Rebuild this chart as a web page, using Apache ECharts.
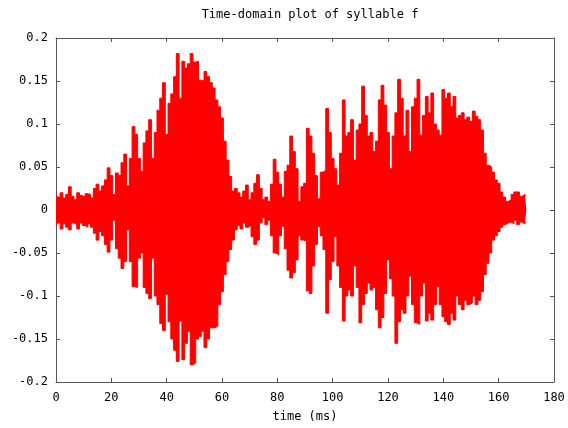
<!DOCTYPE html>
<html><head><meta charset="utf-8">
<script src="https://cdn.jsdelivr.net/npm/echarts@6/dist/echarts.min.js"></script>
<style>html,body{margin:0;padding:0;background:#fff}#c{width:568px;height:428px}</style>
</head><body><div id="c"></div>
<script>
const title = "Time-domain plot of syllable f";
const xLabel = "time (ms)";
const sampleStepMs = 1; // envelope sampled every 1 ms starting at 0 ms
const upperEnv = [0.018,0.015,0.020,0.014,0.018,0.027,0.016,0.012,0.020,0.017,
0.015,0.019,0.018,0.014,0.025,0.030,0.022,0.028,0.035,0.049,
0.040,0.018,0.043,0.040,0.055,0.065,0.028,0.060,0.097,0.088,
0.060,0.045,0.078,0.092,0.105,0.060,0.090,0.116,0.130,0.148,
0.088,0.124,0.135,0.155,0.182,0.130,0.173,0.165,0.170,0.182,
0.172,0.173,0.151,0.150,0.161,0.155,0.148,0.142,0.128,0.120,
0.107,0.080,0.058,0.039,0.022,0.025,0.020,0.015,0.022,0.029,
0.012,0.020,0.031,0.041,0.025,0.012,0.015,0.010,0.030,0.059,
0.044,0.030,0.015,0.045,0.052,0.086,0.068,0.048,0.010,0.027,
0.031,0.095,0.086,0.066,0.040,0.013,0.044,0.046,0.118,0.090,
0.060,0.048,0.029,0.066,0.128,0.086,0.090,0.105,0.058,0.093,
0.100,0.144,0.110,0.086,0.090,0.068,0.080,0.128,0.145,0.122,
0.090,0.048,0.086,0.113,0.152,0.130,0.086,0.116,0.068,0.120,
0.130,0.152,0.087,0.110,0.132,0.113,0.136,0.100,0.093,0.087,
0.140,0.130,0.136,0.120,0.132,0.107,0.110,0.113,0.105,0.108,
0.103,0.115,0.109,0.105,0.093,0.066,0.052,0.050,0.044,0.035,
0.031,0.021,0.015,0.010,0.012,0.018,0.021,0.021,0.016,0.018,0.016];
const lowerEnv = [-0.018,-0.015,-0.022,-0.016,-0.020,-0.023,-0.015,-0.017,-0.022,-0.015,
-0.018,-0.020,-0.016,-0.020,-0.027,-0.035,-0.025,-0.030,-0.040,-0.049,
-0.035,-0.012,-0.045,-0.056,-0.068,-0.060,-0.023,-0.060,-0.089,-0.090,
-0.056,-0.050,-0.090,-0.097,-0.103,-0.056,-0.100,-0.110,-0.132,-0.140,
-0.098,-0.130,-0.150,-0.163,-0.176,-0.129,-0.174,-0.155,-0.141,-0.180,
-0.178,-0.150,-0.147,-0.141,-0.160,-0.150,-0.137,-0.137,-0.135,-0.110,
-0.095,-0.075,-0.060,-0.046,-0.035,-0.023,-0.018,-0.022,-0.015,-0.020,
-0.018,-0.031,-0.040,-0.035,-0.015,-0.009,-0.017,-0.012,-0.030,-0.050,
-0.052,-0.030,-0.019,-0.045,-0.070,-0.079,-0.073,-0.058,-0.030,-0.035,
-0.036,-0.094,-0.097,-0.065,-0.040,-0.019,-0.030,-0.046,-0.120,-0.081,
-0.060,-0.031,-0.065,-0.090,-0.129,-0.100,-0.093,-0.100,-0.065,-0.090,
-0.131,-0.110,-0.097,-0.085,-0.093,-0.090,-0.116,-0.137,-0.125,-0.097,
-0.058,-0.080,-0.100,-0.155,-0.130,-0.116,-0.120,-0.100,-0.077,-0.110,
-0.131,-0.133,-0.100,-0.085,-0.129,-0.120,-0.128,-0.110,-0.089,-0.110,
-0.124,-0.130,-0.133,-0.120,-0.128,-0.100,-0.110,-0.116,-0.105,-0.110,
-0.108,-0.100,-0.110,-0.105,-0.095,-0.075,-0.062,-0.050,-0.035,-0.030,
-0.025,-0.020,-0.017,-0.015,-0.014,-0.016,-0.012,-0.017,-0.014,-0.016,-0.014];

const upperData = upperEnv.map((v,i)=>[i*sampleStepMs, v]);
const lowerData = lowerEnv.map((v,i)=>[i*sampleStepMs, v]);

const font = "DejaVu Sans Mono";
const axisCol = "#555";
const chart = echarts.init(document.getElementById('c'), null, {renderer:'canvas'});
const baseAxis = {
  axisLine:{show:true,onZero:false,lineStyle:{color:axisCol,width:1}},
  axisTick:{show:true,inside:true,length:4,lineStyle:{color:axisCol}},
  splitLine:{show:false}
};
const waveSeries = d => ({type:'line',data:d,symbol:'none',step:'middle',
  lineStyle:{color:'#ff0000',width:1},
  areaStyle:{color:'#ff0000',opacity:1,origin:0}});
chart.setOption({
  animation:false,
  backgroundColor:'#fff',
  title:{text:title,left:305,textAlign:'center',top:4,
    textStyle:{fontFamily:font,fontSize:12,fontWeight:'normal',color:'#000'}},
  grid:{left:56,right:14,top:38,bottom:46},
  xAxis:[
    Object.assign({type:'value',min:0,max:180,interval:20,position:'bottom',
      name:xLabel,nameLocation:'middle',nameGap:29,
      nameTextStyle:{fontFamily:font,fontSize:12,color:'#000'},
      axisLabel:{fontFamily:font,fontSize:12,color:'#000',margin:10}},baseAxis),
    Object.assign({type:'value',min:0,max:180,interval:20,position:'top',
      axisLabel:{show:false}},baseAxis)
  ],
  yAxis:[
    Object.assign({type:'value',min:-0.2,max:0.2,interval:0.05,position:'left',
      axisLabel:{fontFamily:font,fontSize:12,color:'#000',margin:8}},baseAxis),
    Object.assign({type:'value',min:-0.2,max:0.2,interval:0.05,position:'right',
      axisLabel:{show:false}},baseAxis)
  ],
  series:[waveSeries(upperData), waveSeries(lowerData)]
});
</script></body></html>
